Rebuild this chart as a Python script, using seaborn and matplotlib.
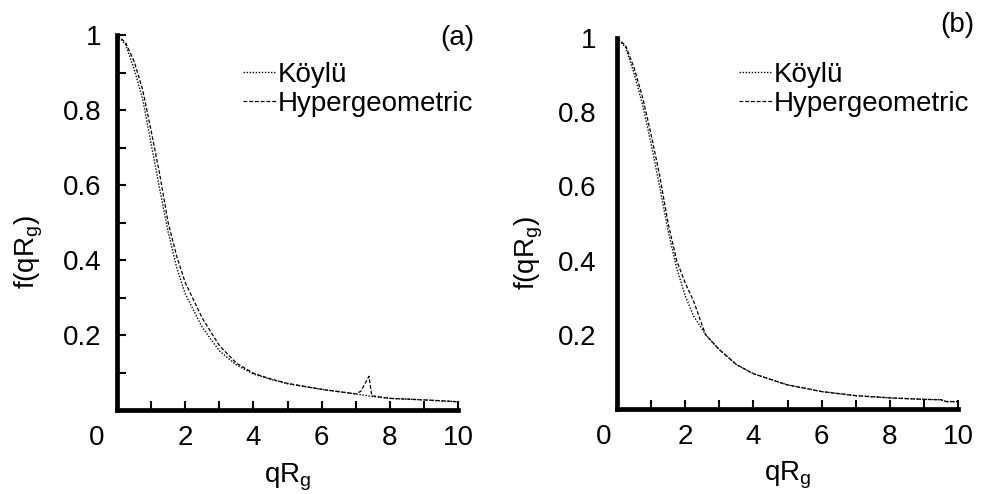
import matplotlib
matplotlib.use("Agg")
import matplotlib.pyplot as plt
import pandas as pd
import seaborn as sns
from matplotlib.transforms import ScaledTranslation

# ---------------- data ----------------
# panel (a)
xa_koylu = [0, 0.25, 0.5, 0.75, 1.0, 1.25, 1.5, 1.75, 2.0, 2.5, 3.0, 3.5, 4.0,
            4.5, 5.0, 6.0, 7.0, 7.42, 8.0, 9.0, 10.0]
ya_koylu = [1.0, 0.975, 0.91, 0.83, 0.71, 0.59, 0.475, 0.38, 0.31, 0.22, 0.158,
            0.12, 0.096, 0.082, 0.07, 0.055, 0.043, 0.037, 0.031, 0.027, 0.022]
xa_hyper = [0, 0.25, 0.5, 0.75, 1.0, 1.25, 1.5, 1.75, 2.0, 2.5, 3.0, 3.5, 4.0,
            4.5, 5.0, 6.0, 7.0, 7.15, 7.3, 7.39, 7.47, 8.0, 9.0, 10.0]
ya_hyper = [1.0, 0.98, 0.93, 0.855, 0.745, 0.63, 0.50, 0.41, 0.34, 0.245, 0.172,
            0.125, 0.098, 0.083, 0.071, 0.055, 0.043, 0.05, 0.075, 0.09, 0.038,
            0.031, 0.027, 0.022]

# panel (b)
xb_koylu = [0, 0.25, 0.5, 0.75, 1.0, 1.25, 1.5, 1.75, 2.0, 2.25, 2.5, 2.6, 3.0,
            3.5, 4.0, 5.0, 6.0, 7.0, 8.0, 9.0, 9.5, 9.65, 10.0]
yb_koylu = [1.0, 0.975, 0.905, 0.82, 0.715, 0.60, 0.48, 0.38, 0.305, 0.25, 0.215,
            0.20, 0.16, 0.12, 0.095, 0.065, 0.047, 0.036, 0.030, 0.026, 0.025,
            0.020, 0.020]
xb_hyper = [0, 0.25, 0.5, 0.75, 1.0, 1.25, 1.5, 1.75, 2.0, 2.25, 2.5, 2.6, 3.0,
            3.5, 4.0, 5.0, 6.0, 7.0, 8.0, 9.0, 9.5, 9.65, 10.0]
yb_hyper = [1.0, 0.98, 0.92, 0.84, 0.74, 0.63, 0.50, 0.40, 0.34, 0.29, 0.225,
            0.20, 0.16, 0.12, 0.095, 0.065, 0.047, 0.036, 0.030, 0.026, 0.025,
            0.020, 0.020]

series_labels = ["Köylü", "Hypergeometric"]
x_ticks = [0, 2, 4, 6, 8, 10]
x_ticklabels = ["0", "2", "4", "6", "8", "10"]
y_ticks = [0.2, 0.4, 0.6, 0.8, 1.0]
y_ticklabels = ["0.2", "0.4", "0.6", "0.8", "1"]
panel_tags = ["(a)", "(b)"]

# ---------------- style ----------------
sns.set_theme(style="white")
plt.rcParams["font.family"] = ["Liberation Sans", "DejaVu Sans"]
plt.rcParams["mathtext.fontset"] = "custom"
plt.rcParams["mathtext.rm"] = "Liberation Sans"
plt.rcParams["mathtext.it"] = "Liberation Sans:italic"
for k in ["text.color", "axes.labelcolor", "xtick.color", "ytick.color",
          "axes.edgecolor"]:
    plt.rcParams[k] = "black"

FS = 20
fig = plt.figure(figsize=(9.82, 4.94), dpi=100)
W, H = 982, 494
axA = fig.add_axes([117 / W, 1 - 410 / H, 341 / W, 375 / H])
axB = fig.add_axes([617 / W, 1 - 409 / H, 341 / W, 371 / H])

dotted = (0, (1.0, 1.2))
dashed = (0, (3.0, 1.6))

panels = [
    (axA, xa_koylu, ya_koylu, xa_hyper, ya_hyper, 243, 20, True),
    (axB, xb_koylu, yb_koylu, xb_hyper, yb_hyper, 739, 13, False),
]

for ax, xk, yk, xh, yh, leg_x, zero_shift, yminor in panels:
    dk = pd.DataFrame({"x": xk, "y": yk})
    dh = pd.DataFrame({"x": xh, "y": yh})
    sns.lineplot(data=dk, x="x", y="y", ax=ax, color="black", lw=1.0,
                 linestyle=dotted, label=series_labels[0], sort=False)
    sns.lineplot(data=dh, x="x", y="y", ax=ax, color="black", lw=0.9,
                 linestyle=dashed, label=series_labels[1], sort=False)

    ax.set_xlim(0, 10)
    ax.set_ylim(0, 1.0)
    for s in ["top", "right"]:
        ax.spines[s].set_visible(False)
    for s in ["left", "bottom"]:
        ax.spines[s].set_linewidth(3.4)
        ax.spines[s].set_color("black")
        ax.spines[s].set_capstyle("projecting")

    ax.set_xticks(x_ticks)
    ax.set_xticklabels(x_ticklabels)
    ax.set_xticks([1, 3, 5, 7, 9], minor=True)
    ax.set_yticks(y_ticks)
    ax.set_yticklabels(y_ticklabels)
    ax.tick_params(axis="x", which="both", direction="in", length=6.5, width=1.5,
                   color="black", labelsize=FS, pad=11, bottom=True)
    if yminor:
        ax.set_yticks([0.1, 0.3, 0.5, 0.7, 0.9], minor=True)
        ax.tick_params(axis="y", which="both", direction="in", length=6.5,
                       width=1.5, color="black", labelsize=FS, pad=11, left=True)
    else:
        ax.tick_params(axis="y", which="both", length=0, labelsize=FS, pad=15)

    # the "0" tick label sits a little left of the origin in the reference
    lbl0 = ax.xaxis.get_major_ticks()[0].label1
    lbl0.set_transform(lbl0.get_transform()
                       + ScaledTranslation(-zero_shift / 100, 0, fig.dpi_scale_trans))

    ax.set_xlabel("qR$_\\mathregular{g}$", fontsize=FS)
    ax.set_ylabel("f(qR$_\\mathregular{g}$)", fontsize=FS)
    ax.xaxis.set_label_coords(0.5, -0.138)
    ax.yaxis.set_label_coords(-0.21, 0.42)
    ax.grid(False)

    ax.legend(loc="upper left", bbox_to_anchor=(leg_x / W, 1 - 62 / H),
              bbox_transform=fig.transFigure, frameon=False, fontsize=FS,
              handlelength=1.2, handletextpad=0.05, borderpad=0,
              borderaxespad=0, labelspacing=0.1)

fig.text(457 / W, 1 - 38 / H, panel_tags[0], ha="center", va="center", fontsize=FS)
fig.text(957 / W, 1 - 25 / H, panel_tags[1], ha="center", va="center", fontsize=FS)

fig.savefig("out.png", dpi=100)
